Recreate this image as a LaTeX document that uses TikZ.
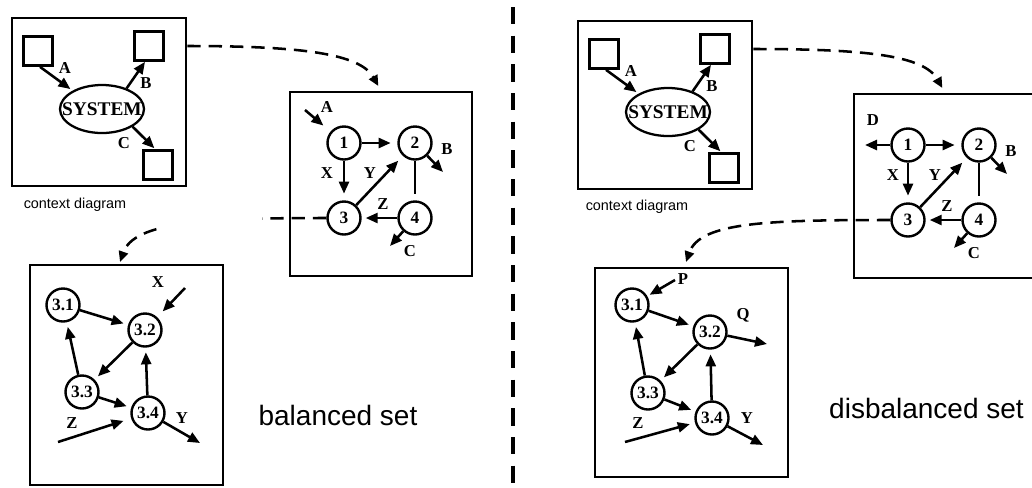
\documentclass[tikz,border=0pt]{standalone}
\usepackage{fontspec}
\setmainfont{Liberation Serif}
\newfontfamily\capfont{Liberation Sans}
\usetikzlibrary{arrows.meta,shapes.geometric,calc}

\begin{document}
\begin{tikzpicture}[
  x=0.75pt,y=-0.75pt,
  lbl/.style={font=\fontsize{12.5}{13}\selectfont\bfseries,inner sep=0pt},
  capt/.style={font=\capfont\fontsize{10.8}{12}\selectfont,inner sep=0pt},
  big/.style={font=\capfont\fontsize{21}{24}\selectfont,inner sep=0pt,anchor=base},
  frame/.style={draw,line width=2pt,inner sep=0pt},
  ext/.style={draw,line width=2pt,minimum size=21.75pt,inner sep=0pt},
  sysell/.style={draw,ellipse,line width=1.7pt,minimum width=63pt,minimum height=36pt,
                 inner sep=0pt,font=\fontsize{14.5}{15}\selectfont\bfseries},
  proc/.style={draw,circle,line width=1.8pt,minimum size=24.75pt,inner sep=0pt,
               font=\fontsize{13}{13}\selectfont\bfseries},
  fl/.style={-{Triangle[length=9pt,width=7.5pt]},line width=1.9pt,shorten >=3.5pt},
  ln/.style={line width=1.9pt},
  link/.style={-{Triangle[length=8pt,width=7pt]},line width=1.9pt,dash pattern=on 10pt off 6pt},
  divider/.style={line width=2.6pt,dash pattern=on 13pt off 8.5pt},
]
\useasboundingbox (0,0) rectangle (1032,487);

% ====================================================== LEFT: balanced set
% -- context diagram
\node[frame,minimum width=130.5pt,minimum height=126pt] (ctxL) at (99,102) {};
\node[ext] (sqAL) at (38,51) {};
\node[ext] (sqBL) at (149,46) {};
\node[ext] (sqCL) at (158,165) {};
\node[sysell] (sysL) at (102,109) {\makebox[0pt]{SYSTEM}};
\draw[fl,shorten >=2pt] ([xshift=1.5pt]sqAL.south) -- (sysL.148);
\draw[fl,shorten >=0pt] (sysL.40) -- ([xshift=-3pt]sqBL.south);
\draw[fl,shorten >=1pt] (sysL.-30) -- ([xshift=-2pt]sqCL.north);
\node[lbl] (lAL) at (65,68) {A};
\node[lbl] (lBL) at (146,83) {B};
\node[lbl] (lCL) at (124,143) {C};
\node[capt] (capL) at (75,205) {context diagram};

% -- level 1
\node[frame,minimum width=136.5pt,minimum height=138pt] (lvlL) at (381,184) {};
\node[proc] (n1L) at (344,143) {1};
\node[proc] (n2L) at (415,143) {2};
\node[proc] (n3L) at (344,218) {3};
\node[proc] (n4L) at (415,218) {4};
\coordinate (inAL) at (305,110);
\coordinate (outBL) at (443,172);
\coordinate (outCL) at (390,246);
\draw[fl,shorten >=7pt] (inAL) -- (n1L);
\draw[fl,shorten >=5pt] (n1L) -- (n2L);
\draw[fl,shorten >=5pt] (n1L) -- (n3L);
\draw[fl,shorten >=5pt] (n3L) -- (n2L);
\draw[fl,shorten >=3pt] (n4L) -- (n3L);
\draw[ln,shorten >=5pt] (n2L) -- (n4L);
\draw[fl,shorten >=0pt] (n2L) -- (outBL);
\draw[fl,shorten >=0pt] (n4L) -- (outCL);
\node[lbl] (l1AL) at (327,107) {A};
\node[lbl] (l1XL) at (327,173) {X};
\node[lbl] (l1YL) at (370,173) {Y};
\node[lbl] (l1ZL) at (383,204) {Z};
\node[lbl] (l1BL) at (447,149) {B};
\node[lbl] (l1CL) at (410,251) {C};

% -- level 2 (process 3)
\node[frame,minimum width=144.75pt,minimum height=165pt] (subL) at (126.5,375) {};
\node[proc] (m31L) at (63,305) {3.1};
\node[proc] (m32L) at (145,330) {3.2};
\node[proc] (m33L) at (82,392) {3.3};
\node[proc] (m34L) at (148,413) {3.4};
\draw[fl] (m31L) -- (m32L);
\draw[fl] (m32L) -- (m33L);
\draw[fl] (m33L) -- (m31L);
\draw[fl] (m33L) -- (m34L);
\draw[fl] (m34L) -- (m32L);
\coordinate (inXL) at (185,288);
\coordinate (inZL) at (58,442);
\coordinate (outYL) at (200,443);
\draw[fl,shorten >=6pt] (inXL) -- (m32L);
\draw[fl,shorten >=6pt] (inZL) -- (m34L);
\draw[fl,shorten >=0pt] (m34L) -- (outYL);
\node[lbl] (l2XL) at (158,282) {X};
\node[lbl] (l2ZL) at (72,423) {Z};
\node[lbl] (l2YL) at (182,418) {Y};

% refinement links
\coordinate (dropL) at (120,262);
\draw[link,shorten >=4pt] (ctxL.east |- sqBL) .. controls +(114,0) and +(-21,-37) .. (lvlL.north);
\begin{scope}
  \clip (0,0) rectangle (163,487) (262,0) rectangle (1032,487);
  \draw[link] (n3L.west) .. controls +(-122,0) and +(14,-40) .. (dropL);
\end{scope}

\node[big] (balL) at (338,425) {balanced set};

% ====================================================== divider
\coordinate (divT) at (513,7);
\coordinate (divB) at (513,490);
\draw[divider] (divT) -- (divB);

% ====================================================== RIGHT: disbalanced set
% -- context diagram
\node[frame,minimum width=130.5pt,minimum height=126pt] (ctxR) at (665,105) {};
\node[ext] (sqAR) at (604,54) {};
\node[ext] (sqBR) at (715,49) {};
\node[ext] (sqCR) at (724,168) {};
\node[sysell] (sysR) at (668,112) {\makebox[0pt]{SYSTEM}};
\draw[fl,shorten >=2pt] ([xshift=1.5pt]sqAR.south) -- (sysR.148);
\draw[fl,shorten >=0pt] (sysR.40) -- ([xshift=-3pt]sqBR.south);
\draw[fl,shorten >=1pt] (sysR.-30) -- ([xshift=-2pt]sqCR.north);
\node[lbl] (lAR) at (631,71) {A};
\node[lbl] (lBR) at (712,86) {B};
\node[lbl] (lCR) at (690,146) {C};
\node[capt] (capR) at (637,207) {context diagram};

% -- level 1
\node[frame,minimum width=136.5pt,minimum height=138pt] (lvlR) at (945,186) {};
\node[proc] (n1R) at (908,145) {1};
\node[proc] (n2R) at (979,145) {2};
\node[proc] (n3R) at (908,220) {3};
\node[proc] (n4R) at (979,220) {4};
\coordinate (outDR) at (865,145);
\coordinate (outBR) at (1007,174);
\coordinate (outCR) at (954,248);
\draw[fl,shorten >=0pt] (n1R) -- (outDR);
\draw[fl,shorten >=5pt] (n1R) -- (n2R);
\draw[fl,shorten >=5pt] (n1R) -- (n3R);
\draw[fl,shorten >=5pt] (n3R) -- (n2R);
\draw[fl,shorten >=3pt] (n4R) -- (n3R);
\draw[ln,shorten >=5pt] (n2R) -- (n4R);
\draw[fl,shorten >=0pt] (n2R) -- (outBR);
\draw[fl,shorten >=0pt] (n4R) -- (outCR);
\node[lbl] (l1DR) at (873,120) {D};
\node[lbl] (l1XR) at (893,175) {X};
\node[lbl] (l1YR) at (935,175) {Y};
\node[lbl] (l1ZR) at (947,206) {Z};
\node[lbl] (l1BR) at (1011,151) {B};
\node[lbl] (l1CR) at (974,253) {C};

% -- level 2 (process 3)
\node[frame,minimum width=144.75pt,minimum height=156.75pt] (subR) at (691.5,372.5) {};
\node[proc] (m31R) at (632,305) {3.1};
\node[proc] (m32R) at (710,332) {3.2};
\node[proc] (m33R) at (648,393) {3.3};
\node[proc] (m34R) at (712,418) {3.4};
\draw[fl] (m31R) -- (m32R);
\draw[fl] (m32R) -- (m33R);
\draw[fl] (m33R) -- (m31R);
\draw[fl] (m33R) -- (m34R);
\draw[fl] (m34R) -- (m32R);
\coordinate (inPR) at (675,280);
\coordinate (outQR) at (767,344);
\coordinate (inZR) at (625,442);
\coordinate (outYR) at (763,445);
\draw[fl,shorten >=2pt] (inPR) -- (m31R);
\draw[fl,shorten >=0pt] (m32R) -- (outQR);
\draw[fl,shorten >=4pt] (inZR) -- (m34R);
\draw[fl,shorten >=0pt] (m34R) -- (outYR);
\node[lbl] (l2PR) at (683,279) {P};
\node[lbl] (l2QR) at (743,315) {Q};
\node[lbl] (l2ZR) at (638,423) {Z};
\node[lbl] (l2YR) at (747,418) {Y};

% refinement links
\coordinate (dropR) at (686,262);
\draw[link,shorten >=4pt] (ctxR.east |- sqBR) .. controls +(114,0) and +(-21,-37) .. (lvlR.north);
\draw[link] (n3R.west) .. controls +(-122,0) and +(14,-40) .. (dropR);

\node[big] (balR) at (926.5,418) {disbalanced set};

\end{tikzpicture}
\end{document}
